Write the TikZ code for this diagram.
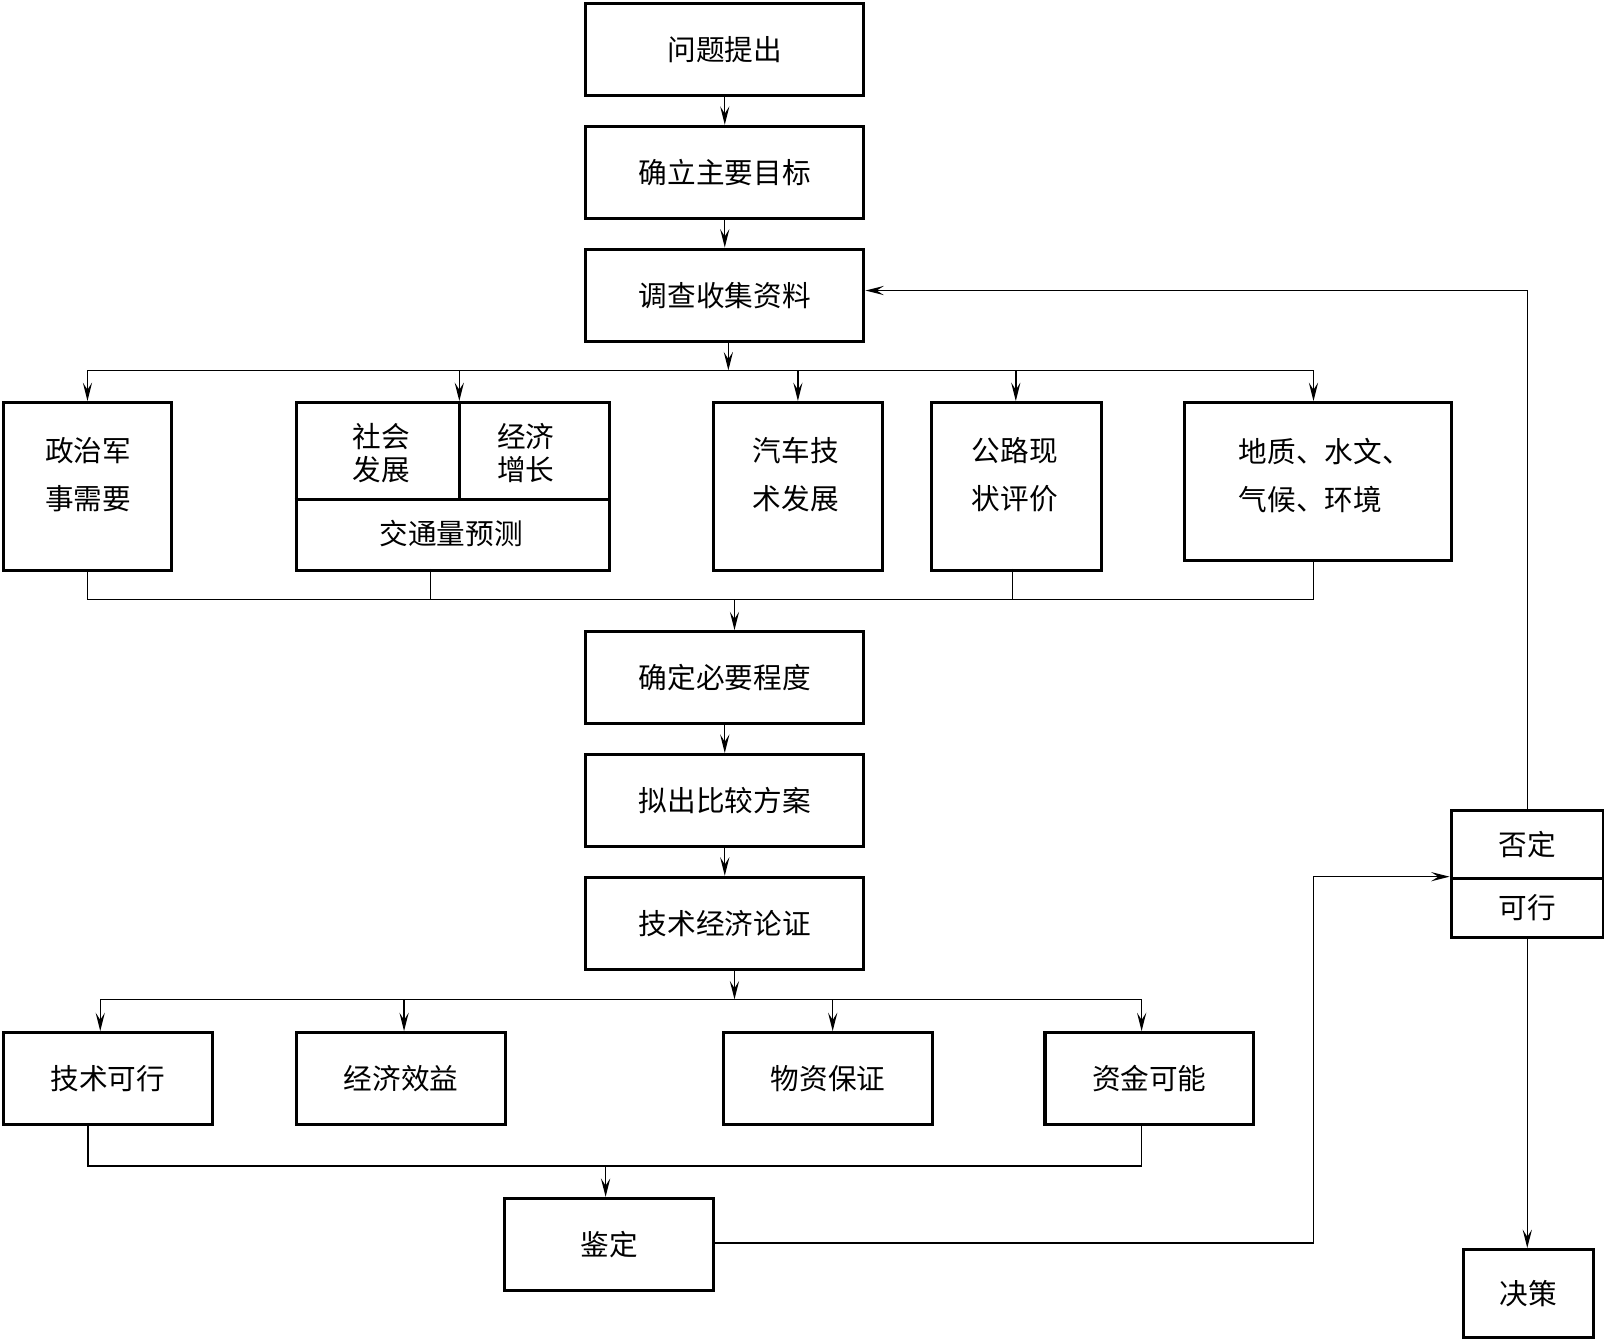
\documentclass[tikz,border=0pt]{standalone}
\usepackage{fontspec}
\newfontfamily\cjk{Noto Sans CJK SC}
\usetikzlibrary{arrows.meta,calc}
\begin{document}
\begin{tikzpicture}[x=1pt,y=-1pt,
  box/.style={draw,line width=3pt,rectangle,inner sep=0pt,anchor=north west,font=\cjk\fontsize{28}{34}\selectfont},
  txt/.style={inner sep=0pt,font=\cjk\fontsize{28}{47}\selectfont,align=center},
  txts/.style={inner sep=0pt,font=\cjk\fontsize{28}{32}\selectfont,align=center},
  conn/.style={line width=1.4pt},
  arr/.style={line width=1.4pt,-{Stealth[length=18pt,width=9pt,inset=7pt]}}]
\useasboundingbox (0,0) rectangle (1568,1312);
% main column
\node[box,minimum width=272pt,minimum height=90pt] (b1) at (571,2) {问题提出};
\node[box,minimum width=272pt,minimum height=90pt] (b2) at (571,122) {确立主要目标};
\node[box,minimum width=272pt,minimum height=90pt] (b3) at (571,242) {调查收集资料};
% second row
\node[box,minimum width=164pt,minimum height=164pt] (p1) at (2,392) {};
\node[txt] (p1t) at (86,464) {政治军\\事需要};
\node[box,minimum width=306pt,minimum height=164pt] (comp) at (288,392) {};
\coordinate (cdivl) at (288,488);
\coordinate (cdivr) at (594,488);
\coordinate (cvt) at (449,392);
\coordinate (cvb) at (449,488);
\draw[line width=3pt] (cdivl) -- (cdivr);
\draw[line width=3pt] (cvt) -- (cvb);
\node[txts] (ct1) at (373,443) {社会\\发展};
\node[txts] (ct2) at (514,443) {经济\\增长};
\node[txt] (ct3) at (441,522) {交通量预测};
\node[box,minimum width=165pt,minimum height=164pt] (p3) at (696,392) {};
\node[txt] (p3t) at (778,464) {汽车技\\术发展};
\node[box,minimum width=166pt,minimum height=164pt] (p4) at (909,392) {};
\node[txt] (p4t) at (992,464) {公路现\\状评价};
\node[box,minimum width=261pt,minimum height=154pt] (p5) at (1156,392) {};
\node[txt,align=left] (p5t) at (1295,465) {地质、水文、\\气候、环境};
% bus 1
\coordinate (bus1) at (712,362);
\draw[arr] (b1.south) -- (b2.north);
\draw[arr] (b2.south) -- (b3.north);
\draw[arr] (b3.south -| bus1) -- (bus1);
\draw[conn] (p1.north |- bus1) -- (1284,362);
\draw[arr] (p1.north |- bus1) -- (p1.north);
\draw[arr] (cvt |- bus1) -- (cvt);
\draw[arr] (780,362) -- (p3.north -| 780,0);
\draw[arr] (993,362) -- (p4.north -| 993,0);
\draw[arr] (1284,362) -- (p5.north -| 1284,0);
% lower column
\node[box,minimum width=272pt,minimum height=90pt] (c1) at (571,616) {确定必要程度};
\node[box,minimum width=272pt,minimum height=90pt] (c2) at (571,736) {拟出比较方案};
\node[box,minimum width=272pt,minimum height=90pt] (c3) at (571,856) {技术经济论证};
% bus 2
\coordinate (bus2) at (718,586);
\coordinate (cr) at (421,556);
\draw[conn] (p1.south) -- (p1.south |- bus2) -- (1284,586) -- (p5.south -| 1284,0);
\draw[conn] (cr) -- (cr |- bus2);
\draw[conn] (990,556) -- (990,586);
\draw[arr] (bus2) -- (bus2 |- c1.north);
\draw[arr] (c1.south) -- (c2.north);
\draw[arr] (c2.south) -- (c3.north);
% third row
\node[box,minimum width=204pt,minimum height=90pt] (t1) at (2,1008) {技术可行};
\node[box,minimum width=205pt,minimum height=90pt] (t2) at (288,1008) {经济效益};
\node[box,minimum width=204pt,minimum height=90pt] (t3) at (706,1008) {物资保证};
\node[box,minimum width=204pt,minimum height=90pt] (t4) at (1020,1008) {资金可能};
\coordinate (bus3) at (718,977);
\draw[arr] (c3.south -| bus3) -- (bus3);
\draw[conn] (98,977) -- (1116,977);
\draw[arr] (98,977) -- (t1.north -| 98,0);
\draw[arr] (395,977) -- (t2.north -| 395,0);
\draw[arr] (814,977) -- (t3.north -| 814,0);
\draw[arr] (1116,977) -- (t4.north -| 1116,0);
% bus 4
\node[box,minimum width=204pt,minimum height=90pt] (jd) at (492,1170) {鉴定};
\coordinate (bus4) at (592,1140);
\draw[conn] (t1.south -| 86,0) -- (86,1140) -- (1116,1140) -- (t4.south -| 1116,0);
\draw[arr] (bus4) -- (bus4 |- jd.north);
% right side
\node[box,minimum width=149pt,minimum height=66pt] (fkt) at (1417,791) {否定};
\node[box,minimum width=149pt,minimum height=58pt] (fkb) at (1417,857) {可行};
\node[box,minimum width=127pt,minimum height=86pt] (jc) at (1429,1220) {决策};
\coordinate (jr) at (1284,1215);
\draw[arr] (jd.east |- jr) -- (jr) -- (jr |- fkb.north west) -- (fkb.north west);
\draw[arr] (fkt.north) -- (fkt.north |- 0,284) -- (b3.east |- 0,284);
\draw[arr] (fkb.south) -- (fkb.south |- jc.north);
\end{tikzpicture}
\end{document}
